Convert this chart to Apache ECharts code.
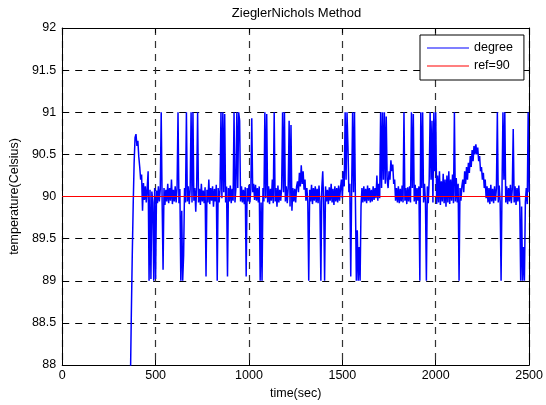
<!DOCTYPE html>
<html>
<head>
<meta charset="utf-8">
<title>ZieglerNichols Method</title>
<script src="https://cdn.jsdelivr.net/npm/echarts@6/dist/echarts.min.js"></script>
<style>
  html, body { margin: 0; padding: 0; background: #fff; }
  #chart { width: 546px; height: 405px; }
</style>
</head>
<body>
<div id="chart"></div>
<script>
// Axis ranges and ticks
const xTicks = [0, 500, 1000, 1500, 2000, 2500];
const yTicks = [88, 88.5, 89, 89.5, 90, 90.5, 91, 91.5, 92];

// Reference set point
const refLevel = 90;
const refSpan = [0, 2500];

// Measured temperature, sampled every DT seconds starting at T0
const T0 = 360, DT = 5;
const degree = [
  // 360 - 455 s
  87.0, 87.8, 88.6, 89.3, 89.9, 90.4, 90.7, 90.74, 90.6, 90.66, 90.47, 90.35, 90.2, 90.26, 89.83, 90.16, 89.96, 90.12, 89.93, 90.1,
  // 460 - 555 s
  90.3, 89.0, 90.08, 89.02, 90.06, 89.93, 89.0, 90.1, 89.02, 90.07, 89.92, 90.12, 89.94, 90.09, 91.0, 89.93, 89.13, 90.1, 89.9, 90.08,
  // 560 - 655 s
  89.94, 90.15, 89.92, 90.1, 89.95, 90.2, 89.91, 90.08, 89.94, 90.12, 89.93, 90.1, 91.0, 89.92, 90.09, 89.0, 89.83, 89.0, 89.3, 90.1,
  // 660 - 755 s
  89.93, 91.0, 89.94, 90.12, 89.91, 90.08, 91.0, 89.93, 91.0, 89.95, 90.1, 89.82, 90.13, 91.0, 89.93, 90.09, 89.9, 90.15, 89.94, 90.07,
  // 760 - 855 s
  89.92, 90.11, 89.05, 90.08, 89.93, 90.2, 89.91, 90.1, 89.95, 90.12, 89.88, 90.09, 89.94, 90.14, 89.0, 90.1, 89.93, 90.08, 91.0, 89.98,
  // 860 - 955 s
  91.0, 90.05, 90.98, 89.93, 90.12, 89.05, 90.1, 89.94, 90.13, 89.92, 90.09, 89.95, 91.0, 89.93, 90.1, 91.0, 90.1, 91.0, 90.9, 89.94,
  // 960 - 1055 s
  90.12, 89.93, 90.08, 89.91, 90.11, 89.05, 90.1, 89.94, 90.14, 89.93, 90.09, 90.93, 90.05, 90.15, 89.96, 90.14, 89.95, 90.1, 89.93, 90.12,
  // 1060 - 1155 s
  89.0, 89.93, 89.0, 90.1, 89.94, 91.0, 89.98, 90.98, 89.93, 90.12, 89.91, 90.09, 89.95, 90.2, 89.92, 91.0, 89.94, 90.1, 89.88, 90.13,
  // 1160 - 1255 s
  89.93, 90.08, 89.95, 90.11, 91.0, 90.05, 91.0, 89.94, 90.12, 89.92, 90.1, 90.9, 89.88, 90.85, 89.83, 90.1, 89.94, 90.09, 89.93, 90.12,
  // 1260 - 1355 s
  90.18, 90.05, 90.28, 90.12, 90.37, 90.15, 90.3, 90.08, 90.2, 89.95, 90.1, 89.93, 89.0, 90.08, 89.94, 90.14, 89.91, 90.1, 89.95, 90.12,
  // 1360 - 1455 s
  89.93, 90.09, 89.92, 90.13, 89.94, 89.0, 90.1, 90.3, 89.93, 89.0, 90.12, 89.94, 90.08, 89.91, 90.11, 89.95, 90.15, 89.93, 90.09, 89.9,
  // 1460 - 1555 s
  90.12, 89.94, 90.1, 89.93, 90.13, 89.95, 90.1, 90.2, 89.98, 90.3, 90.12, 91.0, 90.2, 91.0, 90.6, 90.05, 90.15, 89.05, 90.1, 91.0,
  // 1560 - 1655 s
  90.05, 91.0, 89.95, 89.0, 89.6, 89.0, 89.4, 89.0, 89.88, 90.1, 89.93, 90.12, 89.94, 90.09, 89.92, 90.13, 89.95, 90.1, 89.93, 90.08,
  // 1660 - 1755 s
  89.94, 90.12, 89.96, 90.1, 89.98, 90.25, 89.95, 90.15, 89.98, 91.0, 90.1, 91.0, 90.2, 91.0, 90.15, 90.95, 90.2, 90.1, 90.3, 90.2,
  // 1760 - 1855 s
  90.43, 90.3, 90.38, 90.15, 90.2, 89.95, 90.1, 89.93, 90.12, 89.92, 90.09, 89.94, 90.13, 89.93, 91.0, 89.95, 90.1, 89.91, 90.11, 89.94,
  // 1860 - 1955 s
  90.12, 89.93, 91.0, 90.1, 90.98, 89.94, 90.14, 89.91, 90.1, 89.95, 90.12, 89.0, 91.0, 90.1, 91.0, 89.93, 90.15, 89.94, 89.0, 90.12,
  // 1960 - 2055 s
  89.92, 90.2, 91.0, 90.2, 90.9, 89.93, 91.0, 90.3, 91.0, 89.91, 90.25, 89.93, 90.3, 89.9, 90.18, 89.94, 90.27, 89.92, 90.2, 89.88,
  // 2060 - 2155 s
  90.25, 89.93, 90.3, 89.91, 90.2, 89.95, 90.26, 89.92, 91.0, 89.94, 90.22, 89.93, 90.15, 89.0, 90.1, 89.95, 90.12, 90.2, 90.05, 90.3,
  // 2160 - 2255 s
  90.15, 90.35, 90.2, 90.4, 90.28, 90.48, 90.35, 90.55, 90.42, 90.6, 90.5, 90.62, 90.5, 90.58, 90.42, 90.48, 90.3, 90.35, 90.2, 90.28,
  // 2260 - 2355 s
  90.1, 90.2, 89.98, 90.12, 89.93, 90.1, 89.91, 90.14, 89.94, 90.09, 89.92, 90.12, 89.95, 90.1, 91.0, 89.93, 90.13, 89.94, 89.0, 90.1,
  // 2360 - 2455 s
  91.0, 90.2, 91.0, 89.93, 90.12, 89.91, 90.1, 89.94, 90.14, 89.92, 90.09, 90.8, 89.93, 90.12, 89.9, 90.1, 89.94, 90.13, 89.92, 89.0,
  // 2460 - 2500 s
  89.88, 89.0, 89.4, 89.0, 89.93, 90.1, 89.91, 91.0, 90.05
];

const degreeData = degree.map((v, i) => [T0 + i * DT, v]);
const refData = refSpan.map(t => [t, refLevel]);

const FONT = 'Liberation Sans, Arial, sans-serif';
const gridLeft = 62, gridRight = 15, gridTop = 28, gridBottom = 37;
const dash = [7, 6];

const chart = echarts.init(document.getElementById('chart'), null, { renderer: 'canvas' });

const baseX = {
  type: 'value',
  min: xTicks[0],
  max: xTicks[xTicks.length - 1],
  interval: xTicks[1] - xTicks[0],
  axisLine: { show: true, onZero: false, lineStyle: { color: '#000', width: 1 } },
  axisTick: { show: true, inside: true, length: 5, lineStyle: { color: '#000' } },
  splitLine: { show: false }
};
const baseY = {
  type: 'value',
  min: yTicks[0],
  max: yTicks[yTicks.length - 1],
  interval: yTicks[1] - yTicks[0],
  axisLine: { show: true, onZero: false, lineStyle: { color: '#000', width: 1 } },
  axisTick: { show: true, inside: true, length: 5, lineStyle: { color: '#000' } },
  splitLine: { show: false }
};

const plainNumber = v => String(v);

chart.setOption({
  animation: false,
  backgroundColor: '#fff',
  title: {
    text: 'ZieglerNichols Method',
    left: (gridLeft + 546 - gridRight) / 2,
    textAlign: 'center',
    top: 7,
    padding: 0,
    textStyle: { fontFamily: FONT, fontSize: 13, fontWeight: 'normal', color: '#000' }
  },
  legend: {
    orient: 'vertical',
    left: 420,
    top: 35,
    padding: [6, 11, 7, 7],
    itemGap: 4,
    itemWidth: 42,
    itemHeight: 1,
    icon: 'rect',
    backgroundColor: '#fff',
    borderColor: '#000',
    borderWidth: 1,
    borderRadius: 0,
    textStyle: { fontFamily: FONT, fontSize: 12.5, color: '#000', lineHeight: 14 },
    data: ['degree', 'ref=90']
  },
  grid: { left: gridLeft, right: gridRight, top: gridTop, bottom: gridBottom, containLabel: false },
  xAxis: [
    Object.assign({}, baseX, {
      position: 'bottom',
      name: 'time(sec)',
      nameLocation: 'middle',
      nameGap: 22,
      nameTextStyle: { fontFamily: FONT, fontSize: 12.5, color: '#000' },
      axisLabel: { show: true, margin: 4, fontFamily: FONT, fontSize: 12.5, color: '#000', formatter: plainNumber },
      splitLine: { show: true, lineStyle: { color: '#333', width: 1.2, type: dash } }
    }),
    Object.assign({}, baseX, { position: 'top', axisLabel: { show: false } })
  ],
  yAxis: [
    Object.assign({}, baseY, {
      position: 'left',
      name: 'temperature(Celsius)',
      nameLocation: 'middle',
      nameGap: 39,
      nameTextStyle: { fontFamily: FONT, fontSize: 12.5, color: '#000' },
      axisLabel: { show: true, margin: 6, fontFamily: FONT, fontSize: 12.5, color: '#000', formatter: plainNumber },
      splitLine: { show: true, lineStyle: { color: '#000', width: 1, type: dash } }
    }),
    Object.assign({}, baseY, { position: 'right', axisLabel: { show: false } })
  ],
  series: [
    {
      name: 'degree',
      type: 'line',
      xAxisIndex: 0,
      yAxisIndex: 0,
      data: degreeData,
      symbol: 'none',
      showSymbol: false,
      clip: true,
      lineStyle: { color: '#0000ff', width: 1.5 },
      itemStyle: { color: '#0000ff' },
      z: 3
    },
    {
      name: 'ref=90',
      type: 'line',
      xAxisIndex: 0,
      yAxisIndex: 0,
      data: refData,
      symbol: 'none',
      showSymbol: false,
      lineStyle: { color: '#ff0000', width: 1 },
      itemStyle: { color: '#ff0000' },
      z: 4
    }
  ]
});
</script>
</body>
</html>
